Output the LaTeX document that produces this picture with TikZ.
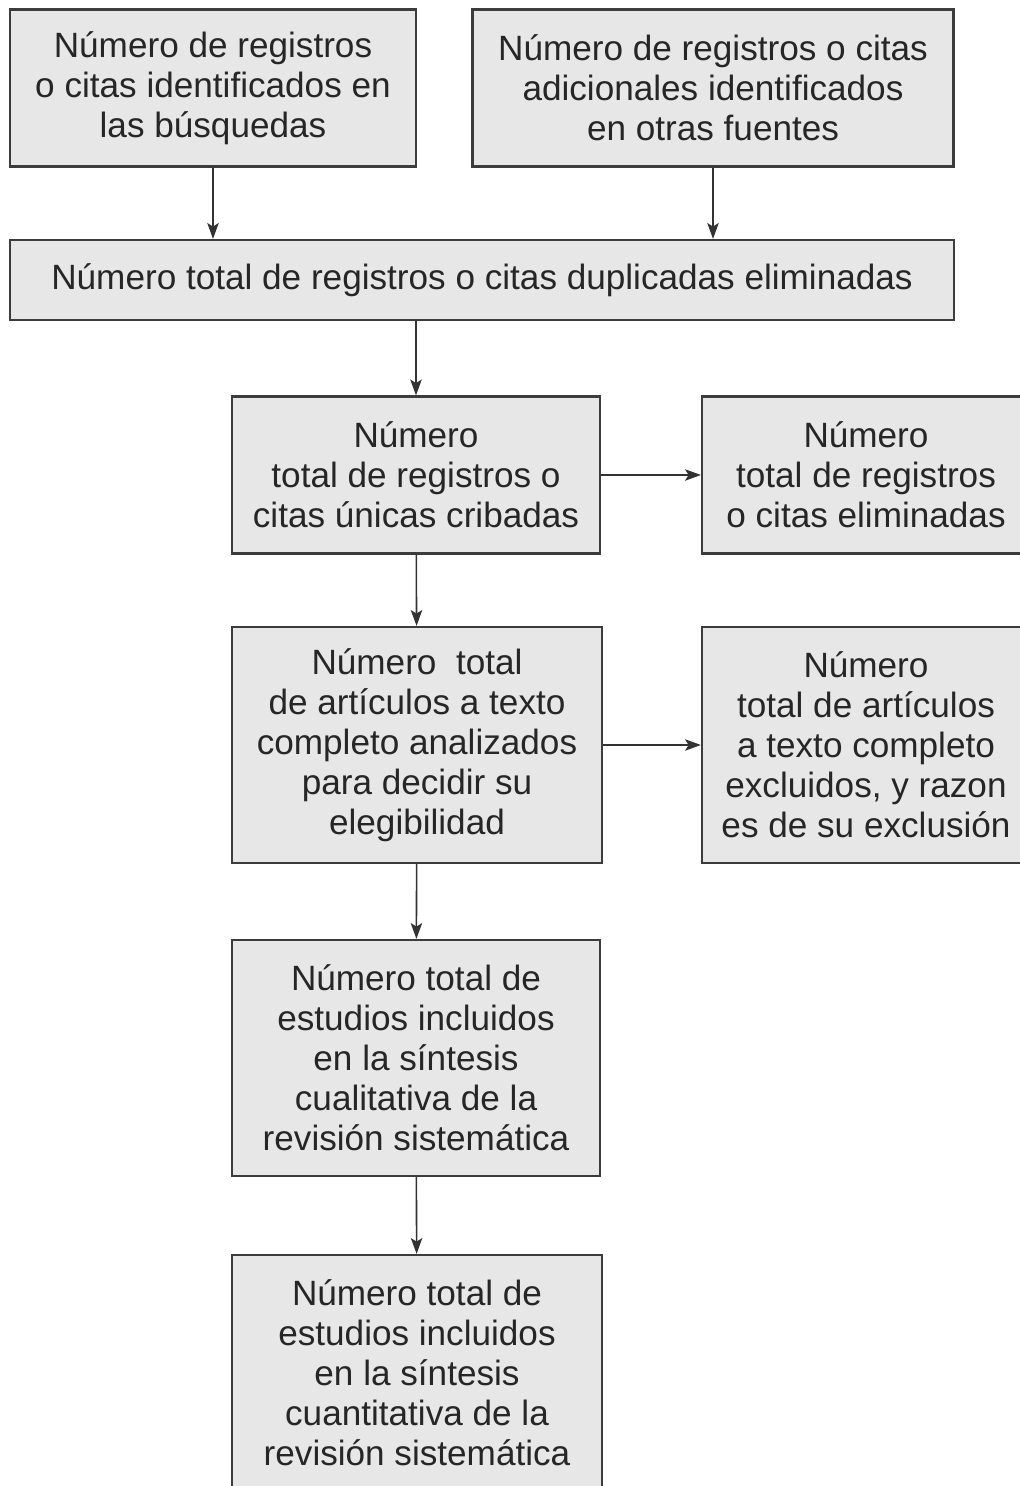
\documentclass[tikz,border=0pt]{standalone}
\usepackage{fontspec}
\setmainfont{Liberation Sans}
\usetikzlibrary{arrows.meta}

\definecolor{boxfill}{RGB}{231,231,231}
\definecolor{boxline}{RGB}{60,60,60}

\begin{document}
\begin{tikzpicture}[x=0.02cm,y=-0.02cm,
    box/.style={draw=boxline, fill=boxfill, line width=1.3pt, align=center,
      inner sep=0pt, text=black!85, font=\fontsize{20}{22.8}\selectfont},
    arr/.style={-{Stealth[length=9pt,width=6.5pt,inset=2pt]}, line width=0.9pt, draw=black!80}]
      % Fix the page size
      \useasboundingbox (0,0) rectangle (1019,1486);

      % Draw the boxes
      \node[box, minimum width=8.12cm, minimum height=3.14cm] (busq) at (213,88)
        {Número de registros\\o citas identificados en\\las búsquedas};
      \node[box, minimum width=9.62cm, minimum height=3.14cm] (otras) at (713,88)
        {Número de registros o citas\\adicionales identificados\\en otras fuentes};
      \node[box, minimum width=18.88cm, minimum height=1.6cm] (dupl) at (482,280)
        {Número total de registros o citas duplicadas eliminadas};
      \node[box, minimum width=7.36cm, minimum height=3.14cm] (crib) at (416,475)
        {Número\\total de registros o\\citas únicas cribadas};
      \node[box, minimum width=6.56cm, minimum height=3.14cm] (elim) at (866,475)
        {Número\\total de registros\\o citas eliminadas};
      \node[box, minimum width=7.4cm, minimum height=4.72cm] (texto) at (417,745)
        {Número\ \ total\\de artículos a texto\\completo analizados\\para decidir su\\elegibilidad};
      \node[box, minimum width=6.56cm, minimum height=4.72cm] (excl) at (866,745)
        {Número\\total de artículos\\a texto completo\\excluidos, y razon\\es de su exclusión};
      \node[box, minimum width=7.36cm, minimum height=4.72cm] (cual) at (416,1058)
        {Número total de\\estudios incluidos\\en la síntesis\\cualitativa de la\\revisión sistemática};
      \node[box, minimum width=7.4cm, minimum height=4.72cm] (cuan) at (417,1373)
        {Número total de\\estudios incluidos\\en la síntesis\\cuantitativa de la\\revisión sistemática};

      % Draw the arrows
      \draw[arr] (busq) -- (busq |- dupl.north);
      \draw[arr] (otras) -- (otras |- dupl.north);
      \draw[arr] (dupl.south -| crib.north) -- (crib);
      \draw[arr] (crib) -- (elim);
      \draw[arr] (crib) -- (texto);
      \draw[arr] (texto) -- (excl);
      \draw[arr] (texto) -- (cual);
      \draw[arr] (cual) -- (cuan);
    \end{tikzpicture}
\end{document}
